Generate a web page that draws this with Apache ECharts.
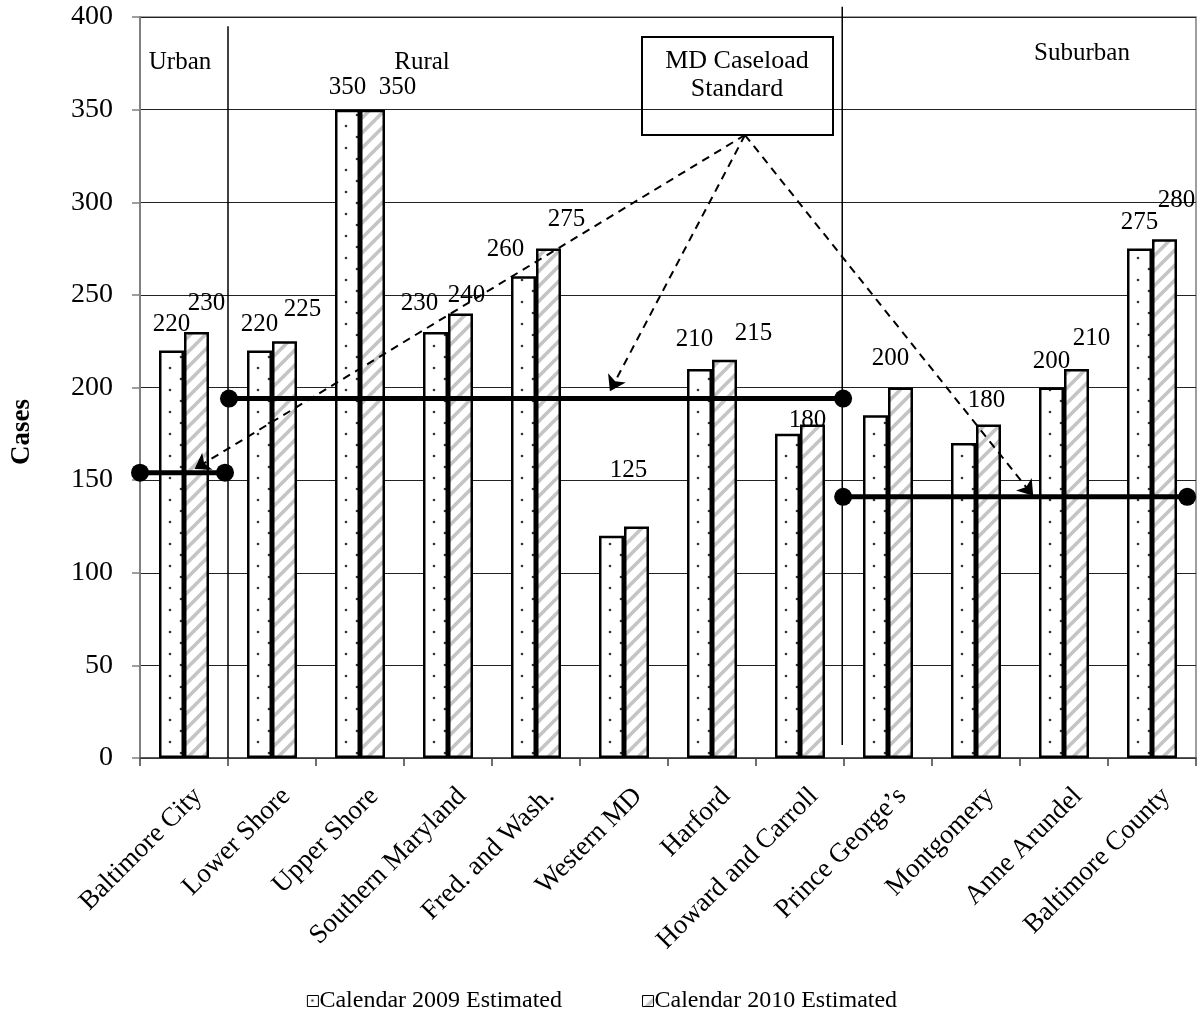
<!DOCTYPE html>
<html><head><meta charset="utf-8">
<script src="https://cdn.jsdelivr.net/npm/echarts@6/dist/echarts.min.js"></script>
<style>html,body{margin:0;padding:0;background:#fff}#c{width:1204px;height:1032px}</style>
</head><body><div id="c"></div>
<script>
// ---- data ----
const categories = ['Baltimore City','Lower Shore','Upper Shore','Southern Maryland','Fred. and Wash.','Western MD','Harford','Howard and Carroll','Prince George\u2019s','Montgomery','Anne Arundel','Baltimore County'];
const est2009 = [220,220,350,230,260,120,210,175,185,170,200,275];
const est2010 = [230,225,350,240,275,125,215,180,200,180,210,280];
const show2009 = [1,1,1,1,1,0,1,0,0,0,1,1];
const show2010 = [1,1,1,1,1,1,1,1,1,1,1,1];
const seriesNames = ['Calendar 2009 Estimated','Calendar 2010 Estimated'];
const yMin = 0, yMax = 400, yStep = 50;
const regionNames = ['Urban','Rural','Suburban'];
const standardValues = [154,194,141];
const standardFrom = [0,1.011,7.99];
const standardTo = [0.966,7.99,11.9];
const separatorX = [1,7.98];
const separatorTop = [395,405.5];
const separatorBottom = [0,7];
const arrowStart = [6.875,336.3];
const arrowEndX = [0.62,5.34,10.15];
const arrowEndY = [156,198,141.5];

// ---- label nudges (style only) ----
const off2009 = [[0,-9],[0,-9],[0,-5],[-16,-11],[-18,-9],[0,0],[-5,-12],[0,0],[0,0],[0,0],[0,-9],[0,-9]];
const off2010 = [[10,-11],[18,-14],[25,-5],[6,0],[18,-12],[-8,-39],[29,-9],[-5,13],[-10,-12],[-2,-7],[15,-13],[12,-21]];

const FONT = "'Liberation Serif','Times New Roman',serif";

function dotPattern(){
  const c=document.createElement('canvas');c.width=22;c.height=22;
  const g=c.getContext('2d');g.fillStyle='#fff';g.fillRect(0,0,22,22);
  g.fillStyle='#333';
  g.beginPath();g.arc(5,5,1.3,0,Math.PI*2);g.fill();
  g.beginPath();g.arc(16,16,1.3,0,Math.PI*2);g.fill();
  return c;
}
function stripePattern(){
  const s=15;const c=document.createElement('canvas');c.width=s;c.height=s;
  const g=c.getContext('2d');g.fillStyle='#fff';g.fillRect(0,0,s,s);
  g.strokeStyle='#c4c4c4';g.lineWidth=3.5;
  [[0,s,s,0],[-s/2,s/2,s/2,-s/2],[s/2,s*1.5,s*1.5,s/2]].forEach(l=>{g.beginPath();g.moveTo(l[0],l[1]);g.lineTo(l[2],l[3]);g.stroke();});
  return c;
}

function barData(vals, shows, offs){
  return vals.map((v,i)=>({value:v,label:{show:!!shows[i],offset:offs[i]}}));
}

const chart = echarts.init(document.getElementById('c'));
const series = [
  {name:seriesNames[0],type:'bar',barWidth:25,barGap:'0%',data:barData(est2009,show2009,off2009),
   itemStyle:{color:{image:dotPattern(),repeat:'repeat'},borderColor:'#000',borderWidth:2.5},
   label:{position:'top',distance:5,fontFamily:FONT,fontSize:25,color:'#000'},z:2},
  {name:seriesNames[1],type:'bar',barWidth:25,data:barData(est2010,show2010,off2010),
   itemStyle:{color:{image:stripePattern(),repeat:'repeat'},borderColor:'#000',borderWidth:2.5},
   label:{position:'top',distance:5,fontFamily:FONT,fontSize:25,color:'#000'},z:2}
];
separatorX.forEach((x,i)=>{
  series.push({type:'line',xAxisIndex:1,clip:false,silent:true,symbol:'none',z:3,
    data:[[x,separatorTop[i]],[x,separatorBottom[i]]],lineStyle:{color:'#000',width:1.5}});
});
standardValues.forEach((v,i)=>{
  series.push({type:'line',xAxisIndex:1,clip:false,silent:true,symbol:'circle',symbolSize:18,z:5,
    data:[[standardFrom[i],v],[standardTo[i],v]],
    itemStyle:{color:'#000'},lineStyle:{color:'#000',width:5}});
});
series.push({type:'lines',coordinateSystem:'cartesian2d',xAxisIndex:1,z:6,silent:true,
  symbol:['none','arrow'],symbolSize:[0,15],
  lineStyle:{color:'#000',width:2,type:[8,6],opacity:1},
  data:arrowEndX.map((x,i)=>({coords:[arrowStart,[x,arrowEndY[i]]]}))});

chart.setOption({
  animation:false,
  backgroundColor:'#fff',
  grid:{left:140,right:8,top:17,bottom:274,show:true,borderColor:'#808080',borderWidth:1.5,outerBoundsMode:'none'},
  legend:{data:seriesNames,bottom:14,left:'center',itemGap:80,icon:'rect',itemWidth:11,itemHeight:11,
    itemStyle:{borderWidth:1,borderColor:'#000'},
    textStyle:{fontFamily:FONT,fontSize:24,color:'#000',padding:[0,0,0,-4]}},
  xAxis:[
    {type:'category',data:categories,boundaryGap:true,
     axisLine:{lineStyle:{color:'#404040',width:1.5}},
     axisTick:{show:true,length:8,lineStyle:{color:'#404040',width:1.5}},
     axisLabel:{rotate:45,interval:0,margin:20,verticalAlign:'top',lineHeight:40,fontFamily:FONT,fontSize:27,color:'#000'}},
    {type:'value',min:0,max:12,show:false}
  ],
  yAxis:{type:'value',min:yMin,max:yMax,interval:yStep,
     axisLine:{show:true,lineStyle:{color:'#808080',width:2}},
     axisTick:{show:true,length:8,lineStyle:{color:'#808080',width:1.5}},
     splitLine:{lineStyle:{color:'#222',width:1}},
     axisLabel:{margin:27,fontFamily:FONT,fontSize:28,color:'#000'}},
  graphic:[
    {type:'text',x:22,y:432,rotation:Math.PI/2,style:{text:'Cases',fontFamily:FONT,fontSize:27,fontWeight:'bold',fill:'#000',textAlign:'center',textVerticalAlign:'middle'}},
    {type:'text',x:180,y:62,style:{text:regionNames[0],fontFamily:FONT,fontSize:25,fill:'#000',textAlign:'center',textVerticalAlign:'middle'}},
    {type:'text',x:422,y:62,style:{text:regionNames[1],fontFamily:FONT,fontSize:25,fill:'#000',textAlign:'center',textVerticalAlign:'middle'}},
    {type:'text',x:1082,y:53,style:{text:regionNames[2],fontFamily:FONT,fontSize:25,fill:'#000',textAlign:'center',textVerticalAlign:'middle'}},
    {type:'rect',shape:{x:642,y:37,width:191,height:98},style:{fill:null,stroke:'#000',lineWidth:2},z:10},
    {type:'text',x:737,y:61,style:{text:'MD Caseload',fontFamily:FONT,fontSize:26,fill:'#000',textAlign:'center',textVerticalAlign:'middle'},z:10},
    {type:'text',x:737,y:89,style:{text:'Standard',fontFamily:FONT,fontSize:26,fill:'#000',textAlign:'center',textVerticalAlign:'middle'},z:10}
  ],
  series:series
});
</script></body></html>
